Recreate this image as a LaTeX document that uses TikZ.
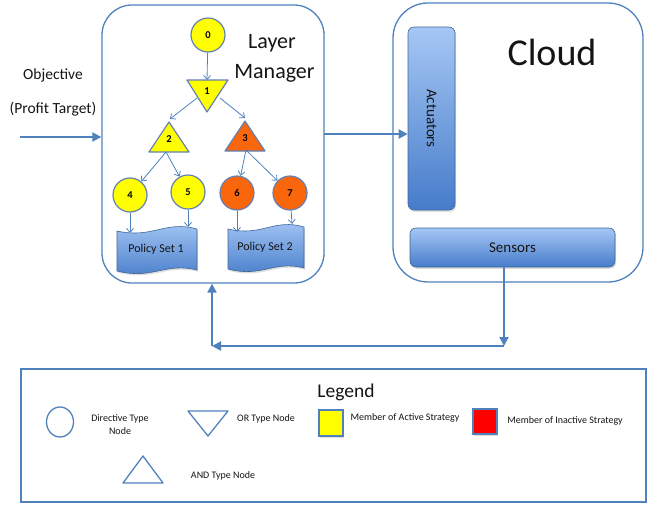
\documentclass[tikz,border=0pt]{standalone}
\usepackage{fontspec}
\setmainfont{Carlito}
\usetikzlibrary{arrows.meta,shapes.geometric,calc,shadows}
\definecolor{bdr}{RGB}{79,129,189}
\definecolor{gtop}{RGB}{166,199,245}
\definecolor{gbot}{RGB}{70,124,202}
\definecolor{nodeb}{RGB}{98,128,180}
\definecolor{orng}{RGB}{250,102,12}
\definecolor{yel}{RGB}{255,255,0}
\definecolor{txt}{RGB}{20,20,20}
\begin{document}
\begin{tikzpicture}[x=1pt,y=-1pt,
  shd/.style={drop shadow={shadow xshift=1.2pt,shadow yshift=-1.8pt,opacity=0.25}},
  bigbox/.style={draw=bdr,line width=1.3pt,rounded corners=30pt},
  bigarr/.style={draw=bdr,line width=2pt,-{Triangle[length=9pt,width=9pt]}},
  thinarr/.style={draw=bdr,line width=0.8pt,-{Straight Barb[length=4pt,width=7pt]}},
  dnode/.style={circle,draw=nodeb,line width=1.2pt,minimum size=34pt,inner sep=0pt,font=\fontsize{10.5}{12}\selectfont\bfseries},
  tri/.style={draw=nodeb,line width=1.2pt,line join=round},
  lbl/.style={inner sep=1pt,font=\fontsize{10.5}{12}\selectfont\bfseries},
  gradbox/.style={draw=bdr!80!black,line width=0.6pt,rounded corners=6pt,top color=gtop,bottom color=gbot,inner sep=0pt,shd},
  tape/.style={draw=bdr!80!black,line width=0.6pt,top color=gtop,bottom color=gbot,shd},
  legtxt/.style={font=\fontsize{10}{13}\selectfont,align=center,text=txt},
  legshape/.style={draw=bdr,line width=1.3pt}
]
\useasboundingbox (0,0) rectangle (647,504);

% Big boxes
\node[bigbox,minimum width=222pt,minimum height=278pt] (lm) at (213,144) {};
\node[bigbox,rounded corners=35pt,minimum width=250pt,minimum height=279pt] (cloud) at (518,142.5) {};
\node[font=\fontsize{22}{30}\selectfont,align=center,text=txt] (lmt) at (272,58) {Layer\\\ Manager};
\node[font=\fontsize{38}{40}\selectfont,text=txt] (cloudt) at (552,52) {Cloud};

% Actuators & Sensors
\node[gradbox,minimum width=47pt,minimum height=183pt] (act) at (431.5,118.5) {};
\node[rotate=-90,font=\fontsize{15}{16}\selectfont,text=txt] (actt) at (431.5,118.5) {Actuators};
\node[gradbox,minimum width=205pt,minimum height=39pt,font=\fontsize{15}{16}\selectfont,text=txt] (sens) at (512.5,247.5) {Sensors};

% Objective
\node[font=\fontsize{15.5}{18}\selectfont,text=txt] (obj) at (53,75) {Objective};
\node[font=\fontsize{15.5}{18}\selectfont,text=txt] (prof) at (53,109) {(Profit Target)};
\coordinate (objs) at (20,137);
\draw[bigarr] (objs) -- (objs -| lm.west);

% LM -> actuators
\coordinate (la) at (324,134);
\draw[bigarr] (la) -- (la -| act.west);

% Feedback loop
\coordinate (fbR) at (504,346);
\coordinate (fbL) at (212,346);
\draw[bigarr] (sens.south -| fbR) -- (fbR);
\draw[bigarr] (fbR) -- (fbL);
\draw[bigarr] (fbL) -- (fbL |- lm.south);

% Tree
\node[dnode,fill=yel] (n0) at (208,35) {0};
\draw[tri,fill=yel] (187,80) -- (228,80) -- (207,112) -- cycle;
\node[lbl] (n1) at (207,91) {1};
\draw[tri,fill=yel] (169,122) -- (189,152) -- (149,152) -- cycle;
\node[lbl] (n2) at (169,139) {2};
\draw[tri,fill=orng] (245,121) -- (265,151) -- (225,151) -- cycle;
\node[lbl] (n3) at (245,138) {3};
\node[dnode,fill=yel] (n4) at (130,195) {4};
\node[dnode,fill=yel] (n5) at (188,192) {5};
\node[dnode,fill=orng] (n6) at (237,193) {6};
\node[dnode,fill=orng] (n7) at (290,193) {7};

% Policy sets
\path[tape] (117,231) .. controls (153,239) and (165,220) .. (197,229) -- (197,270) .. controls (165,262) and (153,280) .. (117,271) -- cycle;
\node[font=\fontsize{12}{14}\selectfont,text=txt] (ps1) at (156,249) {Policy Set 1};
\path[tape] (228,229) .. controls (262,237) and (274,218) .. (304,227) -- (304,268) .. controls (274,260) and (262,278) .. (228,269) -- cycle;
\node[font=\fontsize{12}{14}\selectfont,text=txt] (ps2) at (265,247) {Policy Set 2};

% tree connectors
\coordinate (t1top) at (207,80);
\coordinate (n1l) at (197,98);
\coordinate (n1r) at (220,98);
\coordinate (t2top) at (170,119);
\coordinate (t3top) at (245,118);
\coordinate (t2b) at (166,152);
\coordinate (t3b) at (246,150);
\coordinate (p1a) at (130,233);
\coordinate (p1b) at (188,227);
\coordinate (p2a) at (237,232);
\coordinate (p2b) at (292,224);
\draw[thinarr] (n0) -- (t1top);
\draw[thinarr] (n1l) -- (t2top);
\draw[thinarr] (n1r) -- (t3top);
\draw[thinarr] (t2b) -- (n4);
\draw[thinarr] (t2b) -- (n5);
\draw[thinarr] (t3b) -- (n6);
\draw[thinarr] (t3b) -- (n7);
\draw[thinarr] (n4) -- (p1a);
\draw[thinarr] (n5) -- (p1b);
\draw[thinarr] (n6) -- (p2a);
\draw[thinarr] (n7) -- (p2b);

% Legend
\node[draw=bdr,line width=1.3pt,minimum width=625pt,minimum height=133pt] (leg) at (333.5,435.5) {};
\node[font=\fontsize{19.5}{22}\selectfont,text=txt] (legt) at (346,392) {Legend};
\node[legshape,ellipse,minimum width=27pt,minimum height=30pt,inner sep=0pt] (le1) at (60,422) {};
\node[legtxt] (lt1) at (120,425) {Directive Type\\Node};
\draw[legshape,line join=round] (188,411) -- (228,411) -- (208,436) -- cycle;
\node[legtxt] (lt2) at (266,419) {OR Type Node};
\node[draw=bdr,line width=1.3pt,fill=yel,minimum width=24pt,minimum height=26pt,inner sep=0pt,shd] (ly) at (331,423) {};
\node[legtxt] (lt3) at (405,418) {Member of Active Strategy};
\node[draw=bdr,line width=1.3pt,fill=red,minimum width=24pt,minimum height=25pt,inner sep=0pt,shd] (lr) at (485,421.5) {};
\node[legtxt] (lt4) at (565,421) {Member of Inactive Strategy};
\draw[legshape,line join=round] (143,456) -- (163,483) -- (123,483) -- cycle;
\node[legtxt] (lt5) at (223,476) {AND Type Node};
\end{tikzpicture}
\end{document}
